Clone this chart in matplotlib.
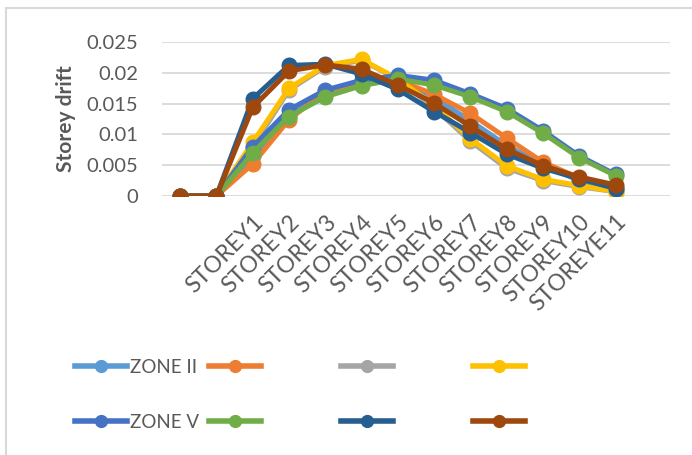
import matplotlib
matplotlib.use("Agg")
import matplotlib.pyplot as plt
from matplotlib.lines import Line2D
from matplotlib.patches import Rectangle

plt.rcParams['font.family'] = ['Lato', 'DejaVu Sans']

# Categories (two base levels, eleven storeys, one trailing empty slot)
categories = ["", "", "STOREY1", "STOREY2", "STOREY3", "STOREY4", "STOREY5",
              "STOREY6", "STOREY7", "STOREY8", "STOREY9", "STOREY10", "STOREYE11", ""]

# Storey drift values per series
zone2_a = [0, 0, 0.0065, 0.0130, 0.0168, 0.0186, 0.0190, 0.0160, 0.0122, 0.0082, 0.0050, 0.0025, 0.0012]
zone2_b = [0, 0, 0.0052, 0.0124, 0.0170, 0.0186, 0.0188, 0.0165, 0.0134, 0.0094, 0.0055, 0.0029, 0.0014]
zone2_c = [0, 0, 0.0080, 0.0172, 0.0210, 0.0220, 0.0190, 0.0143, 0.0089, 0.0045, 0.0025, 0.0015, 0.0007]
zone2_d = [0, 0, 0.0087, 0.0175, 0.0212, 0.0222, 0.0190, 0.0147, 0.0093, 0.0049, 0.0027, 0.0017, 0.0007]
zone5_a = [0, 0, 0.0080, 0.0140, 0.0172, 0.0188, 0.0196, 0.0188, 0.0166, 0.0142, 0.0106, 0.0065, 0.0035]
zone5_b = [0, 0, 0.0070, 0.0129, 0.0161, 0.0179, 0.0190, 0.0180, 0.0161, 0.0137, 0.0102, 0.0062, 0.0033]
zone5_c = [0, 0, 0.0158, 0.0212, 0.0214, 0.0198, 0.0173, 0.0137, 0.0103, 0.0068, 0.0045, 0.0028, 0.0012]
zone5_d = [0, 0, 0.0144, 0.0203, 0.0213, 0.0206, 0.0180, 0.0151, 0.0113, 0.0076, 0.0049, 0.0031, 0.0018]

series = [zone2_a, zone2_b, zone2_c, zone2_d, zone5_a, zone5_b, zone5_c, zone5_d]
labels = ["ZONE II", "", "", "", "ZONE V", "", "", ""]
colors = ["#5B9BD5", "#ED7D31", "#A5A5A5", "#FFC000",
          "#4472C4", "#70AD47", "#255E91", "#9E480E"]

yticks = [0, 0.005, 0.01, 0.015, 0.02, 0.025]
ytick_labels = ["0", "0.005", "0.01", "0.015", "0.02", "0.025"]

W, H = 692, 455
fig = plt.figure(figsize=(W / 100, H / 100), dpi=100)
ax = fig.add_axes([162 / W, 1 - 196 / H, (670 - 162) / W, (196 - 42) / H])

for vals, c in zip(series, colors):
    ax.plot(range(len(vals)), vals, color=c, lw=3.6, marker='o', ms=10.5,
            solid_capstyle='round', zorder=3)

ax.set_xlim(-0.5, len(categories) - 0.5)
ax.set_ylim(0, 0.025)
ax.set_yticks(yticks)
ax.set_yticklabels(ytick_labels)
ax.set_xticks(range(len(categories)))
ax.set_xticklabels(categories, rotation=45, ha='right', va='top',
                   rotation_mode='anchor')
ax.tick_params(axis='y', length=0, pad=17, labelsize=14.5, labelcolor='#595959')
ax.tick_params(axis='x', length=0, pad=11, labelsize=16.5, labelcolor='#595959')
ax.grid(axis='y', color='#D9D9D9', lw=1.3, zorder=0)
ax.set_axisbelow(True)
for s in ax.spines.values():
    s.set_visible(False)
ax.set_ylabel("Storey drift", fontsize=15, fontweight='bold', color='#595959',
              labelpad=8)

# Legend: four columns, ZONE II row on top, ZONE V row below
col_x = [75, 209, 341, 473]
for i, x in enumerate(col_x):
    idx = [i, i + 4]
    handles = [Line2D([], [], color=colors[j], lw=4, marker='o', ms=8.5)
               for j in idx]
    fig.legend(handles, [labels[j] for j in idx], loc='upper left',
               bbox_to_anchor=(x / W, 1 - 359 / H), frameon=False,
               fontsize=13.5, handlelength=2.75, handletextpad=0.2,
               labelspacing=2.0, borderpad=0, borderaxespad=0,
               labelcolor='#595959')

# Chart border
fig.patches.append(Rectangle((6 / W, -0.1), 1.2, 1 - 8 / H + 0.1,
                             transform=fig.transFigure, fill=False,
                             edgecolor='#D9D9D9', lw=1.5))

fig.savefig("out.png", dpi=100)
